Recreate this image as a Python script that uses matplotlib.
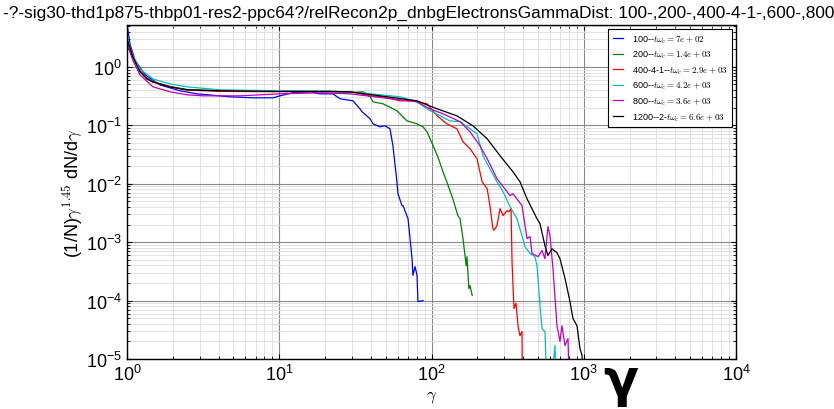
import numpy as np
import matplotlib
matplotlib.use("Agg")
import matplotlib.pyplot as plt

plt.rcParams["font.family"] = ["Liberation Sans", "DejaVu Sans"]
plt.rcParams["mathtext.fontset"] = "cm"

# distribution curves (gamma, (1/N) gamma^1.45 dN/dgamma)
g100 = [1.0, 1.046, 1.128, 1.313, 1.647, 2.23, 2.88, 4.75, 6.72, 9.1, 10.1, 12.3, 15.9, 18.5, 22.5,
        25.1, 30.5, 33.9, 35, 39.5, 41.3, 45.9, 49.5, 53.4, 55.8, 59.3, 60.2, 64, 65, 70.1, 72.3,
        74.5, 75.5, 78, 80.3, 81.5, 88]
f100 = [5.5, 2.47, 1.3, 0.73, 0.49, 0.389, 0.345, 0.307, 0.295, 0.295, 0.319, 0.36, 0.374, 0.345, 0.345,
        0.284, 0.262, 0.191, 0.170, 0.129, 0.106, 0.094, 0.098, 0.087, 0.0447, 0.0108, 0.00675, 0.00421,
        0.00421, 0.00252, 0.00115, 5.2e-4, 2.7e-4, 3.8e-4, 2.7e-4, 9.6e-5, 1.0e-4]

g200 = [1.0, 1.095, 1.217, 1.353, 1.48, 1.916, 2.48, 4.08, 10, 21.5, 29.2, 35.5, 39.5, 41.3, 48, 51,
        59.3, 69, 80.3, 88, 93.4, 102, 110, 119, 126, 138, 149, 154, 161, 169, 171, 176, 179, 185]
f200 = [2.8, 1.4, 0.85, 0.64, 0.56, 0.46, 0.41, 0.39, 0.38, 0.38, 0.36, 0.374, 0.307, 0.252, 0.233, 0.216,
        0.177, 0.119, 0.106, 0.094, 0.0774, 0.046, 0.029, 0.016, 0.0108, 0.00554, 0.00284, 0.00252,
        0.00115, 3.96e-4, 5.65e-4, 1.6e-4, 1.8e-4, 1.22e-4]

g400 = [1.0, 1.095, 1.217, 1.353, 1.48, 1.916, 2.48, 4.08, 10, 21.5, 29.2, 39.5, 48, 62.1, 75.5, 93.4,
        109, 126, 147, 161, 179, 199, 215, 232, 242, 253, 257, 269, 282, 295, 313, 323, 333, 338, 348,
        359, 370, 381, 393, 396]
f400 = [2.78, 1.48, 0.85, 0.62, 0.55, 0.455, 0.40, 0.38, 0.375, 0.374, 0.374, 0.319, 0.307, 0.262, 0.262,
        0.233, 0.145, 0.106, 0.087, 0.0522, 0.0397, 0.0268, 0.0108, 0.00822, 0.00421, 0.0017, 0.0016,
        0.00191, 0.00374, 0.00284, 0.00345, 0.00332, 0.00374, 4.6e-4, 7.3e-5, 9.0e-5, 3.7e-5, 2.5e-5,
        2.95e-5, 1e-6]

g600 = [1.0, 1.095, 1.217, 1.48, 1.916, 2.48, 4.08, 10, 21.5, 29.2, 62.1, 80.3, 93.4, 114, 132, 154,
        179, 199, 218, 242, 269, 295, 328, 364, 393, 411, 444, 478, 493, 516, 532, 556, 582, 647, 667]
f600 = [3.26, 1.54, 0.92, 0.62, 0.51, 0.455, 0.404, 0.389, 0.38, 0.374, 0.307, 0.252, 0.191, 0.145,
        0.119, 0.115, 0.087, 0.0716, 0.0301, 0.018, 0.0108, 0.0073, 0.00404, 0.00252, 0.00129, 8.4e-4,
        6.4e-4, 5.65e-4, 3.96e-4, 8.2e-5, 3.3e-5, 2.95e-5, 1e-6, 1.7e-5, 1e-6]

g800 = [1.0, 1.095, 1.217, 1.48, 1.916, 2.48, 3.16, 5.52, 10.1, 18.5, 29.2, 80.3, 97.7, 119, 154, 179,
        208, 232, 269, 328, 343, 393, 424, 444, 457, 501, 532, 556, 582, 600, 628, 667, 698, 719, 753,
        788, 812]
f800 = [2.47, 1.27, 0.73, 0.455, 0.374, 0.332, 0.319, 0.319, 0.345, 0.36, 0.345, 0.252, 0.191, 0.157,
        0.115, 0.0774, 0.0447, 0.0268, 0.0122, 0.00624, 0.00675, 0.00421, 0.00115, 0.00124, 6.4e-4,
        5.65e-4, 7.2e-4, 5.2e-4, 0.00184, 0.00129, 3.5e-4, 3.7e-5, 2.0e-5, 3.7e-5, 1.7e-5, 2.24e-5, 1e-6]

g1200 = [1.0, 1.095, 1.217, 1.353, 1.48, 1.916, 2.48, 4.08, 10, 21.5, 29.2, 80.3, 109, 147, 187, 232,
         282, 343, 381, 424, 493, 516, 556, 582, 618, 667, 698, 753, 812, 850, 903, 945, 974, 1019]
f1200 = [3.0, 1.48, 0.82, 0.62, 0.55, 0.455, 0.404, 0.389, 0.38, 0.38, 0.374, 0.262, 0.191, 0.145,
         0.098, 0.0588, 0.0301, 0.016, 0.0108, 0.00554, 0.00252, 0.00207, 8.7e-4, 5.9e-4, 7.7e-4, 6.6e-4,
         5.2e-4, 2.4e-4, 9.6e-5, 4.9e-5, 3.7e-5, 1.5e-5, 1.15e-5, 1e-6]

curves = [
    (g100, f100, "b", r"100--$t\omega_c=7e+02$"),
    (g200, f200, "g", r"200--$t\omega_c=1.4e+03$"),
    (g400, f400, "r", r"400-4-1--$t\omega_c=2.9e+03$"),
    (g600, f600, "c", r"600--$t\omega_c=4.2e+03$"),
    (g800, f800, "m", r"800--$t\omega_c=3.6e+03$"),
    (g1200, f1200, "k", r"1200--2-$t\omega_c=6.6e+03$"),
]

title = ("-?-sig30-thd1p875-thbp01-res2-ppc64?/relRecon2p_dnbgElectronsGammaDist: "
         "100-,200-,400-4-1-,600-,800-,1200-2-")

fig = plt.figure(figsize=(8.34, 4.10), dpi=100)
ax = fig.add_axes([127 / 834, 1 - 360 / 410, 609 / 834, 334 / 410])

for g, f, c, lab in curves:
    ax.plot(g, f, color=c, lw=0.9, label=lab)

ax.set_xscale("log")
ax.set_yscale("log")
ax.set_xlim(1, 1e4)
ax.set_ylim(1e-5, 5.2)
ax.grid(True, which="major", color="#888888", lw=0.8)
ax.grid(True, which="minor", color="#dddddd", lw=0.6)
ax.tick_params(which="both", direction="in", top=True, right=True)
ax.tick_params(labelsize=13)
for s in ax.spines.values():
    s.set_linewidth(1.0)

ax.set_xlabel(r"$\gamma$", fontsize=12, labelpad=3)
ax.set_ylabel(r"(1/N)$\gamma^{1.45}$ dN/d$\gamma$", fontsize=13)
ax.yaxis.set_label_coords(-0.069, 0.5)

leg = ax.legend(loc="upper right", fontsize=6.5, fancybox=False, framealpha=1,
                edgecolor="black", handlelength=1.1, handletextpad=1.0,
                labelspacing=0.45, borderaxespad=0.4, borderpad=0.5)
leg.get_frame().set_linewidth(0.8)

fig.text(0.003, 0.985, title, ha="left", va="top", fontsize=12.4)
fig.text(621 / 834, 1 - 382 / 410, r"γ", fontsize=37, fontweight="bold",
         family="DejaVu Sans", ha="center", va="center")

fig.savefig("out.png", dpi=100)
